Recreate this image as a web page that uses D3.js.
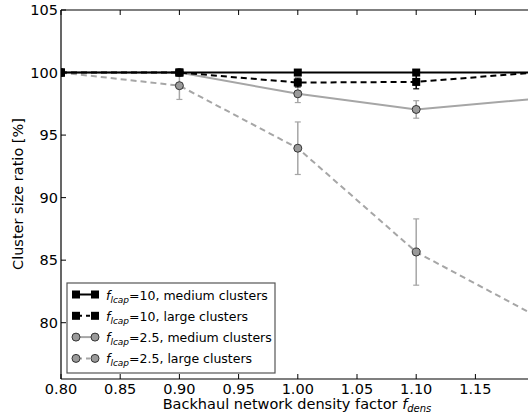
<!DOCTYPE html>
<html><head><meta charset="utf-8">
<script src="https://cdn.jsdelivr.net/npm/d3@7"></script>
<style>body{margin:0;background:#fff;overflow:hidden}svg{display:block;font-family:"DejaVu Sans",sans-serif}</style>
</head><body>
<svg id="c" width="528" height="419"></svg>
<script>
const xVals = [0.80, 0.90, 1.00, 1.10, 1.20];
const medium10 = [100, 100, 100, 100, 100];
const medium10Err = [0.05, 0.1, 0.2, 0.2, 0.2];
const large10 = [100, 100, 99.2, 99.25, 100];
const large10Err = [0.05, 0.1, 0.35, 0.55, 0.3];
const medium25 = [100, 100, 98.3, 97.05, 97.9];
const medium25Err = [0.05, 0.1, 0.7, 0.7, 0.7];
const large25 = [100, 98.95, 93.95, 85.65, 80.6];
const large25Err = [0.05, 1.1, 2.1, 2.65, 2.5];
const xTicks = [0.80, 0.85, 0.90, 0.95, 1.00, 1.05, 1.10, 1.15];
const yTicks = [80, 85, 90, 95, 100, 105];

const svg = d3.select("#c");
const L = 61, T = 10, B = 379;
const x = d3.scaleLinear().domain([0.80, 1.20]).range([L, L + 0.4 * 1184]);
const y = d3.scaleLinear().domain([75.5, 105]).range([B, T]);
const R = x(1.20);

svg.append("clipPath").attr("id","clip").append("rect").attr("x",L).attr("y",T).attr("width",R-L).attr("height",B-T);

const series = [
  {vals: medium10, err: medium10Err, color:"#000", fill:"#000", dash:null, shape:"square", label:"=10, medium clusters"},
  {vals: large10, err: large10Err, color:"#000", fill:"#000", dash:"6,4", shape:"square", label:"=10, large clusters"},
  {vals: medium25, err: medium25Err, color:"#a6a6a6", fill:"#9a9a9a", dash:null, shape:"circle", label:"=2.5, medium clusters"},
  {vals: large25, err: large25Err, color:"#a6a6a6", fill:"#9a9a9a", dash:"6,4", shape:"circle", label:"=2.5, large clusters"}
];

const g = svg.append("g").attr("clip-path","url(#clip)");
const line = d3.line().x((d,i)=>x(xVals[i])).y(d=>y(d));
[3,2,1,0].forEach(k=>{
  const s = series[k];
  const sg = g.append("g");
  sg.append("path").datum(s.vals).attr("d", line).attr("fill","none")
    .attr("stroke", s.color).attr("stroke-width", 2).attr("stroke-dasharray", s.dash);
  s.vals.forEach((v,i)=>{
    const cx = x(xVals[i]);
    const e = s.err[i];
    sg.append("line").attr("x1",cx).attr("x2",cx).attr("y1",y(v+e)).attr("y2",y(v-e))
      .attr("stroke",s.color).attr("stroke-width",1.5);
    [v+e, v-e].forEach(w=>sg.append("line").attr("x1",cx-3).attr("x2",cx+3).attr("y1",y(w)).attr("y2",y(w))
      .attr("stroke",s.color).attr("stroke-width",1.2));
  });
  s.vals.forEach((v,i)=>{
    const cx = x(xVals[i]), cy = y(v);
    if (s.shape==="square") sg.append("rect").attr("x",cx-4).attr("y",cy-4).attr("width",8).attr("height",8).attr("fill","#000");
    else sg.append("circle").attr("cx",cx).attr("cy",cy).attr("r",4).attr("fill",s.fill).attr("stroke","#333").attr("stroke-width",1);
  });
});

svg.append("line").attr("x1",L).attr("x2",L).attr("y1",T).attr("y2",B).attr("stroke","#000").attr("stroke-width",1.2);
svg.append("line").attr("x1",L).attr("x2",R).attr("y1",B).attr("y2",B).attr("stroke","#000").attr("stroke-width",1.2);
svg.append("line").attr("x1",L).attr("x2",R).attr("y1",T).attr("y2",T).attr("stroke","#000").attr("stroke-width",1.2);
svg.append("line").attr("x1",R).attr("x2",R).attr("y1",T).attr("y2",B).attr("stroke","#000").attr("stroke-width",1.2);

xTicks.forEach(t=>{
  const px = x(t);
  svg.append("line").attr("x1",px).attr("x2",px).attr("y1",B).attr("y2",B-5).attr("stroke","#000");
  svg.append("line").attr("x1",px).attr("x2",px).attr("y1",T).attr("y2",T+5).attr("stroke","#000");
  svg.append("text").attr("x",px).attr("y",B+15).attr("text-anchor","middle").attr("font-size",14.5).text(t.toFixed(2));
});
yTicks.forEach(t=>{
  const py = y(t);
  svg.append("line").attr("x1",L).attr("x2",L+5).attr("y1",py).attr("y2",py).attr("stroke","#000");
  svg.append("text").attr("x",L-3).attr("y",py+5).attr("text-anchor","end").attr("font-size",14.5).text(t);
});

const xl = svg.append("text").attr("x",297).attr("y",409).attr("text-anchor","middle").attr("font-size",14.5);
xl.append("tspan").text("Backhaul network density factor ");
xl.append("tspan").attr("font-style","italic").text("f");
xl.append("tspan").attr("font-style","italic").attr("font-size",10).attr("dy",3).text("dens");
svg.append("text").attr("transform","translate(23,194) rotate(-90)").attr("text-anchor","middle").attr("font-size",14.5).text("Cluster size ratio [%]");

const lg = svg.append("g");
lg.append("rect").attr("x",67).attr("y",283).attr("width",208).attr("height",90).attr("fill","#fff").attr("stroke","#555").attr("stroke-width",1.2);
series.forEach((s,i)=>{
  const ly = 294.5 + i*21.3;
  lg.append("line").attr("x1",76).attr("x2",95).attr("y1",ly).attr("y2",ly).attr("stroke",s.color).attr("stroke-width",2).attr("stroke-dasharray", s.dash ? "4,4" : null).attr("stroke-dashoffset", s.dash? -2:0);
  [76,95].forEach(mx=>{
    if (s.shape==="square") lg.append("rect").attr("x",mx-4).attr("y",ly-4).attr("width",8).attr("height",8).attr("fill","#000");
    else lg.append("circle").attr("cx",mx).attr("cy",ly).attr("r",4).attr("fill",s.fill).attr("stroke","#333").attr("stroke-width",1);
  });
  const t = lg.append("text").attr("x",106).attr("y",ly+5).attr("font-size",12.5);
  t.append("tspan").attr("font-style","italic").text("f");
  t.append("tspan").attr("font-style","italic").attr("font-size",9).attr("dy",3).text("lcap");
  t.append("tspan").attr("dy",-3).text(s.label);
});
</script>
</body></html>
